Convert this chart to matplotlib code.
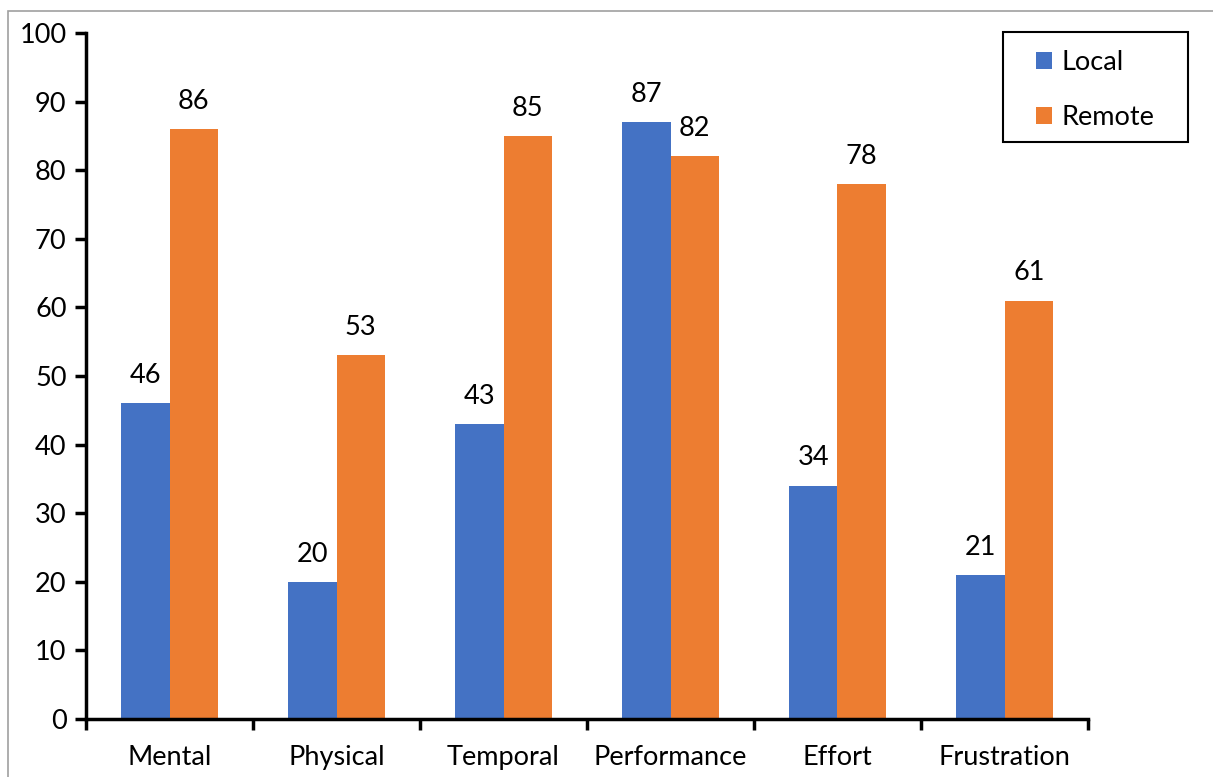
import numpy as np
import matplotlib.pyplot as plt
from matplotlib.patches import Rectangle

# data
categories = ['Mental', 'Physical', 'Temporal', 'Performance', 'Effort', 'Frustration']
local_vals = [46, 20, 43, 87, 34, 21]
remote_vals = [86, 53, 85, 82, 78, 61]

plt.rcParams['font.family'] = ['Lato', 'DejaVu Sans']
fs = 19.5

fig = plt.figure(figsize=(12.13, 7.77), dpi=100)
ax = fig.add_axes([86/1213, 58/777, (1088-86)/1213, (719-33)/777])

x = np.arange(len(categories))
w = 0.29
b1 = ax.bar(x - w/2, local_vals, w, color='#4472C4', label='Local')
b2 = ax.bar(x + w/2, remote_vals, w, color='#ED7D31', label='Remote')

for bars in (b1, b2):
    for r in bars:
        ax.annotate(str(int(r.get_height())), (r.get_x() + r.get_width()/2, r.get_height()),
                    xytext=(0, 11), textcoords='offset points', ha='center', va='bottom', fontsize=fs)

ax.set_xlim(-0.5, len(categories) - 0.5)
ax.set_ylim(0, 100)
ax.set_yticks(range(0, 101, 10))
ax.set_xticks(x)
ax.set_xticklabels(categories)
ax.set_xticks(np.arange(-0.5, len(categories), 1), minor=True)
ax.tick_params(axis='x', which='major', length=0, labelsize=fs, pad=19)
ax.tick_params(axis='x', which='minor', length=8, width=2.5, direction='out')
ax.tick_params(axis='y', length=8, width=2.5, labelsize=fs, pad=6)

for s in ['top', 'right']:
    ax.spines[s].set_visible(False)
for s in ['left', 'bottom']:
    ax.spines[s].set_linewidth(2.5)

# legend without its own frame, box drawn separately to match the wide padding
leg = ax.legend(loc='upper left', bbox_to_anchor=(1036/1213, 1 - 50/777), bbox_transform=fig.transFigure,
                fontsize=fs, frameon=False, handlelength=0.6, handleheight=0.6,
                labelspacing=1.1, borderpad=0, borderaxespad=0, handletextpad=0.35)
fig.patches.append(Rectangle((1003/1213, 1 - 142/777), 185/1213, 110/777, transform=fig.transFigure,
                             fill=False, edgecolor='black', linewidth=1.5))

# outer border of the chart area
fig.patches.append(Rectangle((8/1213, -0.01), 1.0, 1 - 11/777 + 0.01, transform=fig.transFigure,
                             fill=False, edgecolor='#A0A0A0', linewidth=1.2))

fig.savefig('out.png', dpi=100)
